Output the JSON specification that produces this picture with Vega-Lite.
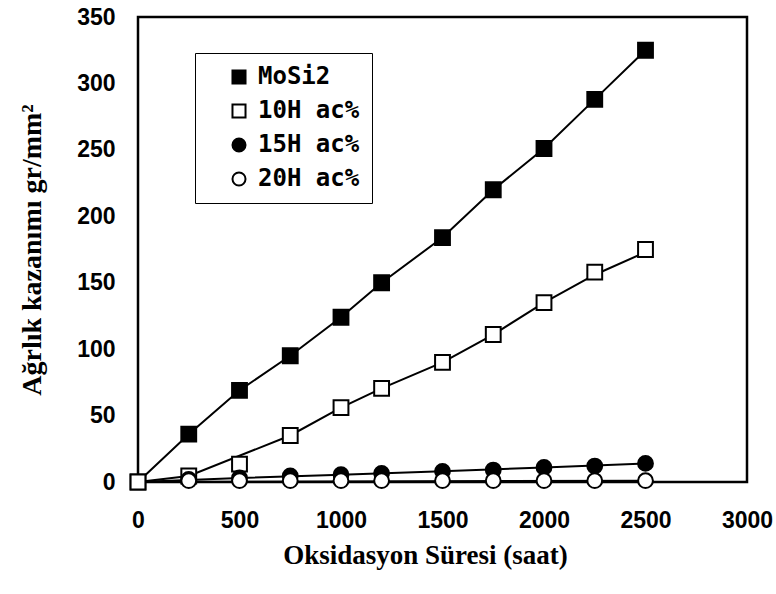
{
  "$schema": "https://vega.github.io/schema/vega-lite/v6.json",
  "autosize": {"type": "none"},
  "padding": {"left": 138, "top": 17, "right": 29, "bottom": 112},
  "width": 609,
  "height": 465,
  "background": "white",
  "config": {
    "view": {"stroke": "black", "strokeWidth": 2.5}
  },
  "datasets": {
    "pts": [
      {"t": 0, "w": 0, "series": "MoSi2"},
      {"t": 250, "w": 36, "series": "MoSi2"},
      {"t": 500, "w": 69, "series": "MoSi2"},
      {"t": 750, "w": 95, "series": "MoSi2"},
      {"t": 1000, "w": 124, "series": "MoSi2"},
      {"t": 1200, "w": 150, "series": "MoSi2"},
      {"t": 1500, "w": 184, "series": "MoSi2"},
      {"t": 1750, "w": 220, "series": "MoSi2"},
      {"t": 2000, "w": 251, "series": "MoSi2"},
      {"t": 2250, "w": 288, "series": "MoSi2"},
      {"t": 2500, "w": 325, "series": "MoSi2"},
      {"t": 0, "w": 0, "series": "10H ac%"},
      {"t": 250, "w": 4.5, "series": "10H ac%"},
      {"t": 500, "w": 13.5, "series": "10H ac%"},
      {"t": 750, "w": 35, "series": "10H ac%"},
      {"t": 1000, "w": 56, "series": "10H ac%"},
      {"t": 1200, "w": 70.5, "series": "10H ac%"},
      {"t": 1500, "w": 90, "series": "10H ac%"},
      {"t": 1750, "w": 111, "series": "10H ac%"},
      {"t": 2000, "w": 135, "series": "10H ac%"},
      {"t": 2250, "w": 158, "series": "10H ac%"},
      {"t": 2500, "w": 175, "series": "10H ac%"},
      {"t": 250, "w": 2, "series": "15H ac%"},
      {"t": 500, "w": 3, "series": "15H ac%"},
      {"t": 750, "w": 4.5, "series": "15H ac%"},
      {"t": 1000, "w": 5.5, "series": "15H ac%"},
      {"t": 1200, "w": 6.5, "series": "15H ac%"},
      {"t": 1500, "w": 8, "series": "15H ac%"},
      {"t": 1750, "w": 9, "series": "15H ac%"},
      {"t": 2000, "w": 11, "series": "15H ac%"},
      {"t": 2250, "w": 12, "series": "15H ac%"},
      {"t": 2500, "w": 14, "series": "15H ac%"},
      {"t": 250, "w": 1, "series": "20H ac%"},
      {"t": 500, "w": 1, "series": "20H ac%"},
      {"t": 750, "w": 1, "series": "20H ac%"},
      {"t": 1000, "w": 1, "series": "20H ac%"},
      {"t": 1200, "w": 1, "series": "20H ac%"},
      {"t": 1500, "w": 1, "series": "20H ac%"},
      {"t": 1750, "w": 1, "series": "20H ac%"},
      {"t": 2000, "w": 1, "series": "20H ac%"},
      {"t": 2250, "w": 1, "series": "20H ac%"},
      {"t": 2500, "w": 1, "series": "20H ac%"}
    ],
    "lines": [
      {"t": 0, "w": 0, "series": "MoSi2"},
      {"t": 250, "w": 36, "series": "MoSi2"},
      {"t": 500, "w": 69, "series": "MoSi2"},
      {"t": 750, "w": 95, "series": "MoSi2"},
      {"t": 1000, "w": 124, "series": "MoSi2"},
      {"t": 1200, "w": 150, "series": "MoSi2"},
      {"t": 1500, "w": 184, "series": "MoSi2"},
      {"t": 1750, "w": 220, "series": "MoSi2"},
      {"t": 2000, "w": 251, "series": "MoSi2"},
      {"t": 2250, "w": 288, "series": "MoSi2"},
      {"t": 2500, "w": 325, "series": "MoSi2"},
      {"t": 0, "w": 0, "series": "10H ac%"},
      {"t": 250, "w": 4.5, "series": "10H ac%"},
      {"t": 750, "w": 35, "series": "10H ac%"},
      {"t": 1000, "w": 56, "series": "10H ac%"},
      {"t": 1200, "w": 70.5, "series": "10H ac%"},
      {"t": 1500, "w": 90, "series": "10H ac%"},
      {"t": 1750, "w": 111, "series": "10H ac%"},
      {"t": 2000, "w": 135, "series": "10H ac%"},
      {"t": 2250, "w": 156, "series": "10H ac%"},
      {"t": 2500, "w": 173, "series": "10H ac%"},
      {"t": 0, "w": 0, "series": "15H ac%"},
      {"t": 500, "w": 3, "series": "15H ac%"},
      {"t": 1000, "w": 5.5, "series": "15H ac%"},
      {"t": 1500, "w": 8, "series": "15H ac%"},
      {"t": 2000, "w": 11, "series": "15H ac%"},
      {"t": 2500, "w": 14, "series": "15H ac%"},
      {"t": 0, "w": 0, "series": "20H ac%"},
      {"t": 2500, "w": 1, "series": "20H ac%"}
    ]
  },
  "layer": [
    {
      "data": {"name": "lines"},
      "mark": {"type": "line", "color": "black", "strokeWidth": 2},
      "encoding": {
        "x": {"field": "t", "type": "quantitative"},
        "y": {"field": "w", "type": "quantitative"},
        "detail": {"field": "series", "type": "nominal"}
      }
    },
    {
      "data": {"name": "pts"},
      "mark": {"type": "point", "stroke": "black", "strokeWidth": 2, "size": 220, "opacity": 1, "fillOpacity": 1},
      "encoding": {
        "x": {
          "field": "t", "type": "quantitative",
          "scale": {"domain": [0, 3000], "nice": false},
          "axis": {
            "values": [0, 500, 1000, 1500, 2000, 2500, 3000], "format": "d",
            "grid": false, "ticks": false, "domain": false,
            "labelFont": "Liberation Sans", "labelFontSize": 23, "labelFontWeight": "bold", "labelColor": "black",
            "labelPadding": 27, "labelFlush": false,
            "title": "Oksidasyon Süresi (saat)",
            "titleFont": "Liberation Serif", "titleFontSize": 27, "titleFontWeight": "bold", "titleColor": "black",
            "titlePadding": 10, "titleX": 287
          }
        },
        "y": {
          "field": "w", "type": "quantitative",
          "scale": {"domain": [0, 350], "nice": false},
          "axis": {
            "values": [0, 50, 100, 150, 200, 250, 300, 350],
            "grid": false, "ticks": false, "domain": false,
            "labelFont": "Liberation Sans", "labelFontSize": 23, "labelFontWeight": "bold", "labelColor": "black",
            "labelPadding": 23, "labelFlush": false,
            "title": "Ağrlık kazanımı gr/mm²",
            "titleFont": "Liberation Serif", "titleFontSize": 28, "titleFontWeight": "bold", "titleColor": "black",
            "titlePadding": 30
          }
        },
        "fill": {
          "field": "series", "type": "nominal",
          "scale": {"domain": ["MoSi2", "10H ac%", "15H ac%", "20H ac%"], "range": ["black", "white", "black", "white"]},
          "legend": {
            "title": null, "orient": "none", "legendX": 57, "legendY": 36,
            "strokeColor": "black", "padding": 12, "rowPadding": 10,
            "labelFont": "DejaVu Sans Mono", "labelFontSize": 24, "labelFontWeight": "bold", "labelColor": "black",
            "labelOffset": 7, "symbolOffset": 20, "symbolSize": 170, "symbolStrokeWidth": 2, "symbolStrokeColor": "black",
            "encode": {"legend": {"update": {"strokeWidth": {"value": 2}}}}
          }
        },
        "shape": {
          "field": "series", "type": "nominal",
          "scale": {"domain": ["MoSi2", "10H ac%", "15H ac%", "20H ac%"], "range": ["square", "square", "circle", "circle"]}
        }
      }
    }
  ]
}
